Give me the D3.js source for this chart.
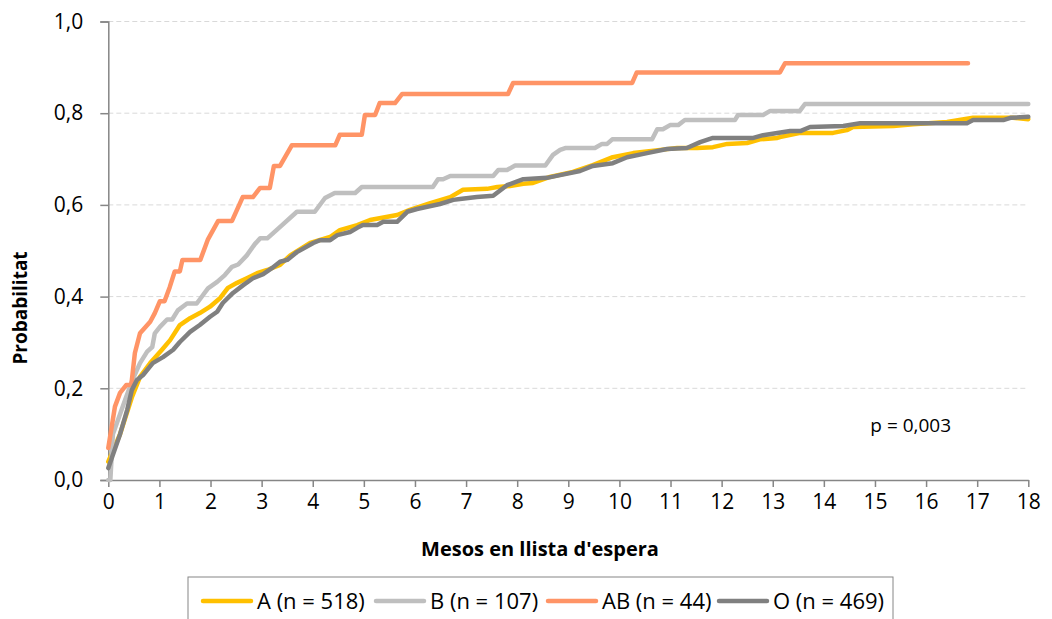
<!DOCTYPE html>
<html lang="ca">
<head>
<meta charset="utf-8">
<title>Probabilitat per grup sanguini</title>
<script src="https://d3js.org/d3.v7.min.js"></script>
<style>
  body { margin: 0; background: #fff; }
  text { font-family: "Open Sans", "Noto Sans", sans-serif; fill: #000; }
  .grid line { stroke: #D9D9D9; stroke-dasharray: 5,3; }
  .axis path, .axis line { stroke: #868686; stroke-width: 1.5; }
  .series { fill: none; stroke-width: 4.5; stroke-linejoin: round; stroke-linecap: round; }
</style>
</head>
<body>
<div id="chart"></div>
<script>

// ----- data (months on the waiting list, cumulative probability) -----
var seriesNames = ["A (n = 518)", "B (n = 107)", "AB (n = 44)", "O (n = 469)"]
var seriesColors = ["#FFC000", "#BFBFBF", "#FF9466", "#808080"]

var curveA = [[0,0.04],[0.23,0.10],[0.46,0.18],[0.62,0.225],[0.82,0.255],[1.05,0.284],[1.21,0.305],
  [1.40,0.338],[1.60,0.353],[1.79,0.364],[1.99,0.378],[2.19,0.397],[2.34,0.419],[2.52,0.43],[2.71,0.44],
  [2.91,0.451],[3.11,0.458],[3.36,0.469],[3.56,0.49],[3.95,0.517],[4.34,0.53],[4.53,0.545],[4.87,0.556],
  [5.12,0.567],[5.65,0.578],[5.90,0.589],[6.30,0.604],[6.69,0.617],[6.94,0.633],[7.41,0.635],[7.61,0.639],
  [7.86,0.641],[8.12,0.646],[8.31,0.648],[8.64,0.661],[9.09,0.672],[9.48,0.687],[9.87,0.704],[10.27,0.713],
  [10.80,0.72],[11.13,0.724],[11.52,0.724],[11.83,0.726],[12.11,0.733],[12.50,0.735],[12.75,0.743],
  [13.09,0.746],[13.14,0.748],[13.54,0.757],[14.18,0.757],[14.45,0.763],[14.57,0.77],[15.36,0.772],
  [15.75,0.776],[16.41,0.781],[16.92,0.79],[17.70,0.79],[18,0.787]]

var curveB = [[0,0],[0.04,0.0],[0.09,0.1],[0.33,0.175],[0.48,0.22],[0.62,0.255],[0.76,0.28],[0.86,0.29],
  [0.91,0.32],[1.01,0.334],[1.15,0.35],[1.25,0.35],[1.36,0.37],[1.54,0.385],[1.73,0.385],[1.85,0.403],
  [1.95,0.418],[2.13,0.432],[2.28,0.447],[2.42,0.465],[2.54,0.47],[2.71,0.49],[2.87,0.515],[2.97,0.527],
  [3.11,0.527],[3.22,0.538],[3.40,0.556],[3.69,0.585],[4.04,0.585],[4.24,0.615],[4.43,0.626],[4.83,0.626],
  [4.96,0.639],[6.35,0.639],[6.45,0.656],[6.55,0.656],[6.69,0.663],[7.53,0.663],[7.63,0.676],[7.80,0.676],
  [7.96,0.686],[8.55,0.686],[8.70,0.709],[8.84,0.72],[8.94,0.724],[9.52,0.724],[9.66,0.733],[9.76,0.733],
  [9.86,0.743],[10.64,0.743],[10.74,0.765],[10.85,0.765],[10.99,0.774],[11.15,0.774],[11.28,0.785],
  [12.26,0.785],[12.32,0.796],[12.81,0.796],[12.95,0.805],[13.53,0.805],[13.63,0.82],[18,0.82]]

var curveAB = [[0,0.07],[0.13,0.16],[0.23,0.19],[0.35,0.207],[0.45,0.207],[0.52,0.277],[0.62,0.32],
  [0.82,0.345],[0.91,0.364],[1.01,0.39],[1.1,0.39],[1.2,0.42],[1.3,0.455],[1.4,0.455],[1.45,0.48],
  [1.80,0.48],[1.95,0.525],[2.15,0.565],[2.42,0.565],[2.63,0.617],[2.83,0.617],[2.97,0.637],[3.16,0.637],
  [3.24,0.685],[3.36,0.685],[3.59,0.73],[4.44,0.73],[4.53,0.753],[4.96,0.753],[5.02,0.796],[5.22,0.796],
  [5.31,0.822],[5.61,0.822],[5.75,0.842],[7.82,0.842],[7.92,0.866],[10.25,0.866],[10.34,0.889],
  [13.14,0.889],[13.24,0.909],[16.82,0.909]]

var curveO = [[0,0.026],[0.23,0.10],[0.37,0.153],[0.46,0.196],[0.56,0.218],[0.68,0.229],[0.87,0.255],
  [1.07,0.268],[1.27,0.284],[1.40,0.301],[1.60,0.323],[1.79,0.338],[1.99,0.356],[2.13,0.367],[2.24,0.386],
  [2.44,0.408],[2.64,0.425],[2.83,0.44],[3.03,0.449],[3.20,0.462],[3.36,0.476],[3.50,0.48],[3.69,0.497],
  [4.01,0.517],[4.14,0.523],[4.34,0.523],[4.48,0.534],[4.73,0.541],[4.87,0.55],[4.98,0.556],[5.26,0.556],
  [5.38,0.563],[5.65,0.563],[5.85,0.585],[6.04,0.591],[6.24,0.596],[6.49,0.602],[6.75,0.611],[6.88,0.613],
  [7.21,0.617],[7.53,0.62],[7.80,0.643],[8.12,0.656],[8.58,0.659],[8.84,0.665],[9.23,0.674],[9.48,0.685],
  [9.87,0.691],[10.15,0.704],[10.54,0.713],[10.93,0.722],[11.32,0.724],[11.58,0.737],[11.83,0.746],
  [12.62,0.746],[12.81,0.752],[13.09,0.757],[13.34,0.761],[13.54,0.761],[13.73,0.77],[14.38,0.772],
  [14.71,0.778],[16.80,0.778],[16.92,0.785],[17.51,0.785],[17.65,0.79],[18,0.792]]

var xTicks = d3.range(0, 19)
var yTicks = [0, 0.2, 0.4, 0.6, 0.8, 1.0]
var pValueLabel = "p = 0,003"

// ----- layout -----
var width = 1052, height = 619
var margin = {top: 21.5, left: 108.3}
var plotW = 920, plotH = 458.5

var svg = d3.select("#chart").append("svg")
  .attr("width", width)
  .attr("height", height)

var g = svg.append("g").attr("transform", "translate(" + margin.left + "," + margin.top + ")")

var x = d3.scaleLinear().domain([0, 18]).range([0, plotW])
var y = d3.scaleLinear().domain([0, 1]).range([plotH, 0])

// dashed horizontal gridlines
g.append("g").attr("class", "grid")
  .selectAll("line")
  .data(yTicks.filter(function(d){ return d > 0 }))
  .enter().append("line")
    .attr("x1", 0).attr("x2", plotW)
    .attr("y1", function(d){ return y(d) }).attr("y2", function(d){ return y(d) })

var fmtComma = function(d){ return d3.format(".1f")(d).replace(".", ",") }

// y axis
var yAxis = g.append("g").attr("class", "axis")
  .call(d3.axisLeft(y).tickValues(yTicks).tickFormat(fmtComma).tickSize(8).tickPadding(17))
yAxis.selectAll("text").style("font-size", "21px")

// x axis
var xAxis = g.append("g").attr("class", "axis")
  .attr("transform", "translate(0," + plotH + ")")
  .call(d3.axisBottom(x).tickValues(xTicks).tickFormat(d3.format("d")).tickSize(7).tickSizeOuter(0).tickPadding(7))
xAxis.selectAll("text").style("font-size", "21px")

// curves
var line = d3.line()
  .x(function(d){ return x(d[0]) })
  .y(function(d){ return y(d[1]) })

var curves = [curveA, curveB, curveAB, curveO]
g.selectAll(".series")
  .data(curves)
  .enter().append("path")
    .attr("class", "series")
    .attr("stroke", function(d, i){ return seriesColors[i] })
    .attr("d", line)

// p value
g.append("text")
  .attr("x", x(15.7)).attr("y", y(0.1) - 2)
  .attr("text-anchor", "middle")
  .style("font-size", "19px")
  .text(pValueLabel)

// axis titles
svg.append("text")
  .attr("transform", "translate(27,308) rotate(-90)")
  .attr("text-anchor", "middle")
  .style("font-size", "19px").style("font-weight", "bold")
  .text("Probabilitat")

svg.append("text")
  .attr("x", 540).attr("y", 556)
  .attr("text-anchor", "middle")
  .style("font-size", "20px").style("font-weight", "bold")
  .text("Mesos en llista d'espera")

// legend
var legend = svg.append("g").attr("transform", "translate(188,577)")
legend.append("rect")
  .attr("width", 705).attr("height", 50)
  .attr("fill", "none").attr("stroke", "#868686").attr("stroke-width", 1)

var legendX = [15, 188, 360, 531]
var item = legend.selectAll(".item")
  .data(seriesNames)
  .enter().append("g")
    .attr("class", "item")
    .attr("transform", function(d, i){ return "translate(" + legendX[i] + ",24)" })
item.append("line")
  .attr("x1", 0).attr("x2", 48)
  .attr("stroke", function(d, i){ return seriesColors[i] })
  .attr("stroke-width", 4.5).attr("stroke-linecap", "round")
item.append("text")
  .attr("x", 54).attr("y", 8)
  .style("font-size", "22px")
  .text(function(d){ return d })

</script>
</body>
</html>
